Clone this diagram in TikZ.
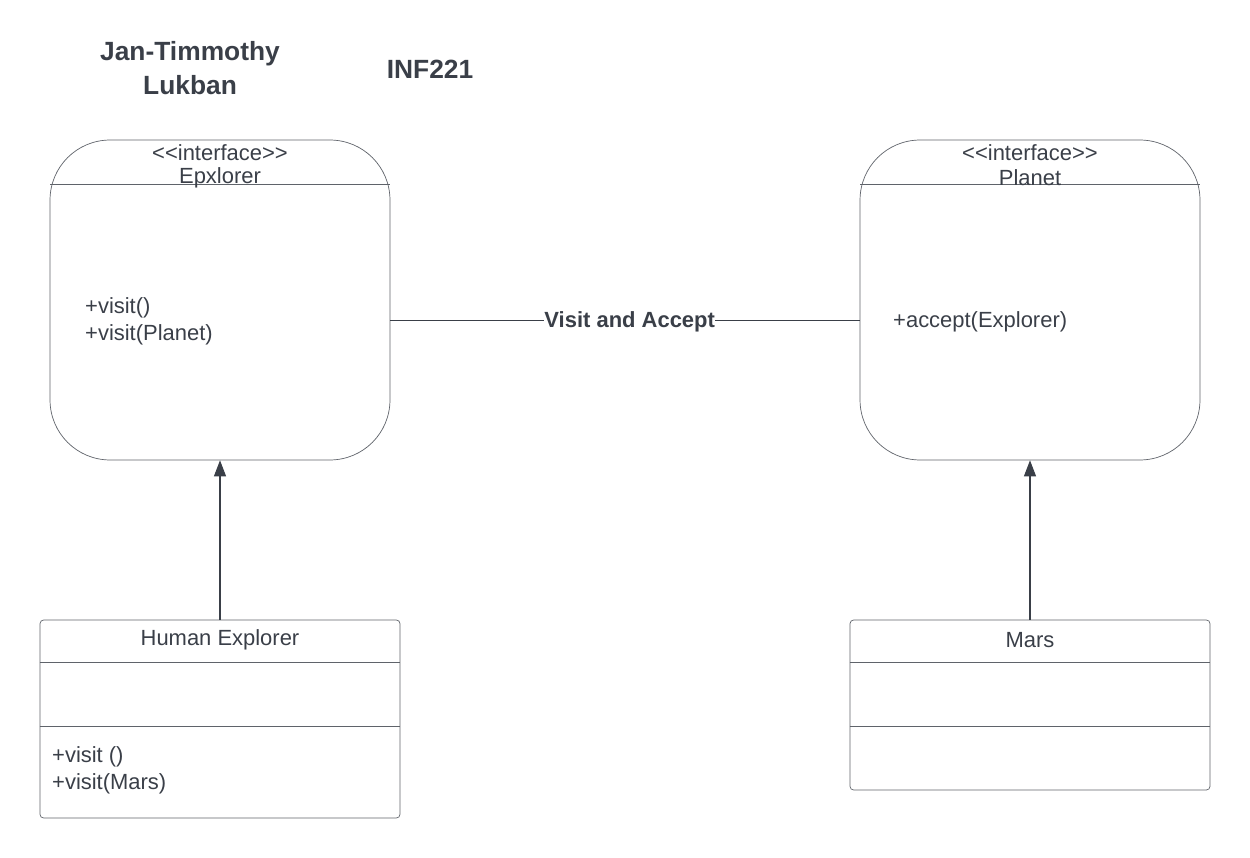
\documentclass[tikz,border=0pt]{standalone}
\usepackage{fontspec}
\setmainfont{Liberation Sans}
\usetikzlibrary{arrows.meta, calc}

\definecolor{inkgray}{RGB}{58,63,72}
\definecolor{boxgray}{RGB}{95,99,106}

\newcommand{\stereo}[1]{<\kern0pt<#1>\kern0pt>}

\begin{document}
\begin{tikzpicture}[x=0.02cm, y=-0.02cm,
    every node/.style={text=inkgray, font=\fontsize{12.5}{15}\selectfont},
    title/.style={font=\fontsize{15}{18}\selectfont\bfseries},
    iface/.style={draw=boxgray, rounded corners=1.2cm, minimum width=6.8cm, minimum height=6.4cm},
    umlclass/.style={draw=boxgray, rounded corners=2pt, minimum width=7.2cm},
    inherit/.style={draw=inkgray, semithick, -{Triangle[length=0.32cm, width=0.24cm]}}]
    \useasboundingbox (0,0) rectangle (1250,858);

    % Title texts
    \node[title] (name1) at (190,54) {Jan-Timmothy};
    \node[title] (name2) at (190,85) {Lukban};
    \node[title] (course) at (430,69) {INF221};

    % Interfaces
    \node[iface] (explorer) at (220,300) {};
    \node[iface] (planet) at (1030,300) {};
    \draw[boxgray] (50,184) -- (390,184);
    \draw[boxgray] (860,184) -- (1200,184);
    \node (st1) at (220,153) {\stereo{interface}};
    \node (en1) at (220,178) {Epxlorer};
    \node (st2) at (1030,153) {\stereo{interface}};
    \node (en2) at (1030,178) {Planet};

    % Interface methods
    \node[anchor=west] (m1) at (79,308) {+visit()};
    \node[anchor=west] (m2) at (79,335) {+visit(Planet)};
    \node[anchor=west] (m3) at (887,322) {+accept(Explorer)};

    % Association
    \draw[inkgray] ($(explorer.east)+(0,20)$) --
        node[fill=white, inner sep=0pt, pos=0.51, yshift=-0.04cm, font=\fontsize{12.5}{15}\selectfont\bfseries] (assoc) {Visit and Accept}
        ($(planet.west)+(0,20)$);

    % Classes
    \node[umlclass, minimum height=3.96cm] (human) at (220,719) {};
    \node[umlclass, minimum height=3.4cm] (mars) at (1030,705) {};
    \draw[boxgray] (human.west |- 0,662) -- (human.east |- 0,662);
    \draw[boxgray] (human.west |- 0,726) -- (human.east |- 0,726);
    \draw[boxgray] (mars.west |- 0,662) -- (mars.east |- 0,662);
    \draw[boxgray] (mars.west |- 0,726) -- (mars.east |- 0,726);
    \node (hname) at (220,640) {Human Explorer};
    \node (mname) at (1030,640) {Mars};
    \node[anchor=west] (h1) at (46,757) {+visit ()};
    \node[anchor=west] (h2) at (46,784) {+visit(Mars)};

    % Realization arrows
    \draw[inherit] (human.north) -- (explorer.south);
    \draw[inherit] (mars.north) -- (planet.south);

\end{tikzpicture}
\end{document}
